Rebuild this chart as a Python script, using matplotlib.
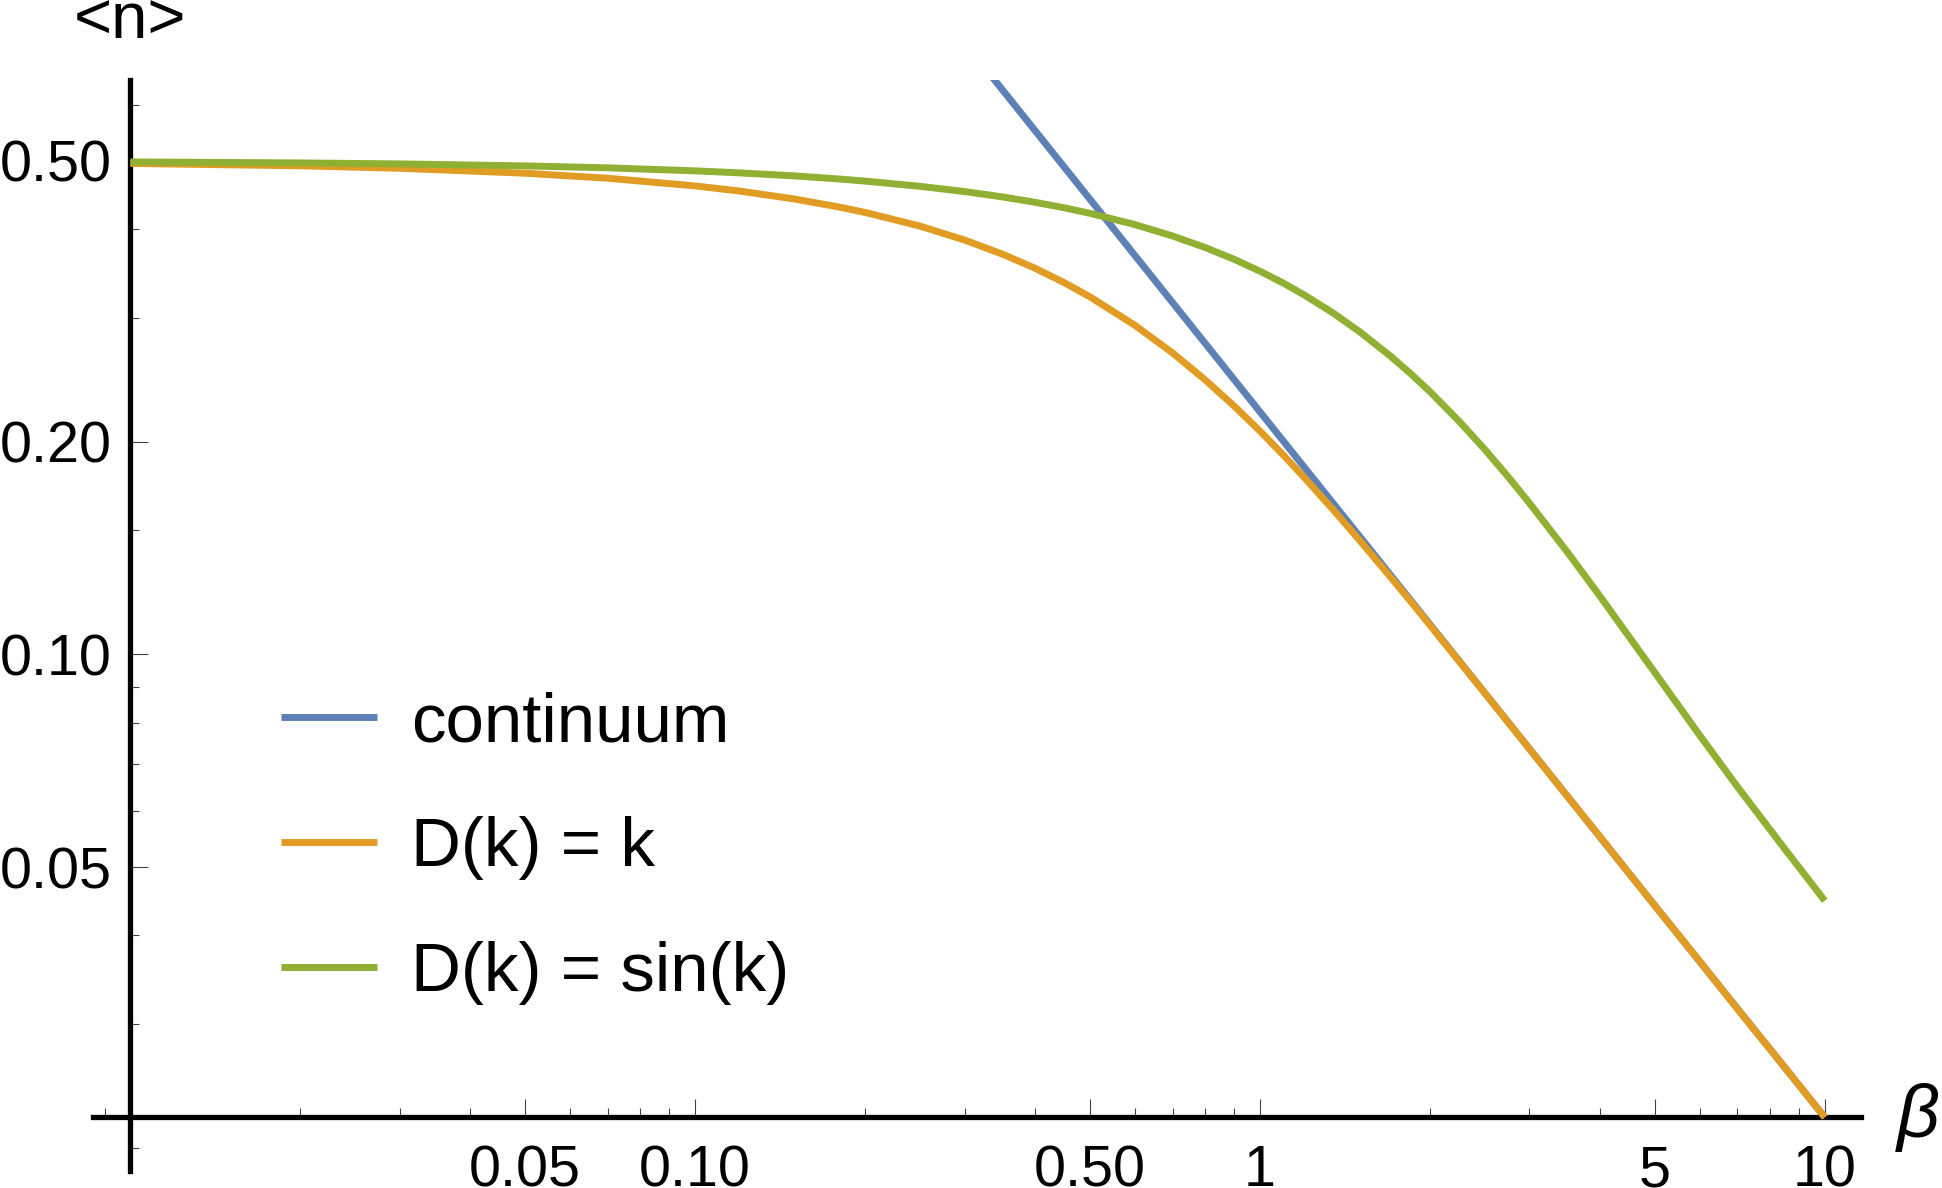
#!/usr/bin/env python3
"""
Mean occupation <n> vs inverse temperature beta (log-log), three dispersions.
"""
import matplotlib
matplotlib.use("Agg")
import matplotlib.pyplot as plt

# values
beta = [0.01, 0.02, 0.03, 0.05, 0.07, 0.1, 0.12, 0.15, 0.18, 0.2, 0.25, 0.3, 0.35,
        0.4, 0.45, 0.5, 0.6, 0.7, 0.8, 0.9, 1.0, 1.1, 1.2, 1.35, 1.5, 1.7, 1.85,
        2.0, 2.25, 2.5, 2.75, 3.0, 3.5, 4.0, 4.5, 5.0, 6.0, 7.0, 8.5, 10.0]
n_linear = [0.4960, 0.4921, 0.4882, 0.4804, 0.4726, 0.4609, 0.4532, 0.4416, 0.4302,
            0.4227, 0.4043, 0.3863, 0.3690, 0.3523, 0.3363, 0.3210, 0.2927, 0.2674,
            0.2448, 0.2248, 0.2072, 0.1916, 0.1778, 0.1601, 0.1452, 0.1289, 0.1188,
            0.1100, 0.0979, 0.0882, 0.0802, 0.0735, 0.0630, 0.0552, 0.0490, 0.0441,
            0.0368, 0.0315, 0.0260, 0.0221]
n_sine = [0.4984, 0.4968, 0.4952, 0.4920, 0.4889, 0.4841, 0.4809, 0.4762, 0.4714,
          0.4682, 0.4603, 0.4525, 0.4447, 0.4369, 0.4292, 0.4215, 0.4064, 0.3915,
          0.3770, 0.3628, 0.3490, 0.3357, 0.3227, 0.3042, 0.2866, 0.2648, 0.2497,
          0.2356, 0.2141, 0.1952, 0.1785, 0.1638, 0.1397, 0.1209, 0.1060, 0.0943,
          0.0769, 0.0650, 0.0530, 0.0448]
beta_cont = [0.3, 0.5, 1.0, 2.0, 5.0, 10.0]
n_cont = [0.7355, 0.4413, 0.2206, 0.1103, 0.0441, 0.0221]

labels = ["continuum", "D(k) = k", "D(k) = sin(k)"]

x_major = [0.01, 0.05, 0.1, 0.5, 1, 5, 10]
x_major_labels = ["", "0.05", "0.10", "0.50", "1", "5", "10"]
x_minor = [0.009, 0.02, 0.03, 0.04, 0.06, 0.07, 0.08, 0.09, 0.2, 0.3, 0.4, 0.6,
           0.7, 0.8, 0.9, 2, 3, 4, 6, 7, 8, 9]
y_major = [0.05, 0.1, 0.2, 0.5]
y_major_labels = ["0.05", "0.10", "0.20", "0.50"]
y_minor = [0.02, 0.03, 0.04, 0.06, 0.07, 0.08, 0.09, 0.15, 0.3, 0.4, 0.6]

BLUE, ORANGE, GREEN = "#5E81B5", "#E19C24", "#8FB032"

plt.rcParams["font.family"] = ["Liberation Sans", "DejaVu Sans"]

fig = plt.figure(figsize=(19.42, 11.88), dpi=100)
ax = fig.add_axes([0.04789, 0.01465, 0.91040, 0.91759])
ax.set_xscale("log")
ax.set_yscale("log")
ax.set_xlim(0.008587, 11.59)
ax.set_ylim(0.01858, 0.650)

lw = 5.0
ax.plot(beta_cont, n_cont, color=BLUE, lw=lw, label=labels[0], zorder=3,
        solid_capstyle="butt")
ax.plot(beta, n_linear, color=ORANGE, lw=lw, label=labels[1], zorder=3,
        solid_capstyle="butt")
ax.plot(beta, n_sine, color=GREEN, lw=lw, label=labels[2], zorder=3,
        solid_capstyle="butt")

# Mathematica-style axes crossing at the plot-range origin
for s in ["top", "right"]:
    ax.spines[s].set_visible(False)
ax.spines["left"].set_position(("data", beta[0]))
ax.spines["bottom"].set_position(("data", min(n_linear)))
for s in ["left", "bottom"]:
    ax.spines[s].set_linewidth(3.8)
    ax.spines[s].set_zorder(2.5)

ax.set_xticks(x_major)
ax.set_xticklabels(x_major_labels)
ax.set_xticks(x_minor, minor=True)
ax.set_xticklabels([], minor=True)
ax.set_yticks(y_major)
ax.set_yticklabels(y_major_labels)
ax.set_yticks(y_minor, minor=True)
ax.set_yticklabels([], minor=True)

ax.tick_params(which="both", direction="in", color="#444444", width=0.8,
               labelsize=41.4, labelcolor="black")
ax.tick_params(which="major", length=12.8)
ax.tick_params(which="minor", length=6.2)
ax.tick_params(axis="x", which="major", pad=19.2)
ax.tick_params(axis="y", which="major", pad=13.4)

ax.text(beta[0], 1.039, "<n>", transform=ax.get_xaxis_transform(),
        ha="center", va="baseline", fontsize=47)
ax.text(1.0325, min(n_linear), "β", transform=ax.get_yaxis_transform(),
        ha="center", va="center", fontsize=54, style="italic")

ax.legend(loc="upper left", bbox_to_anchor=(0.1062, 0.4395), frameon=False,
          fontsize=49.8, handlelength=1.39, handletextpad=0.49,
          labelspacing=0.88, borderpad=0, borderaxespad=0)

fig.savefig("out.png", dpi=100)
print("[OK] out.png")
